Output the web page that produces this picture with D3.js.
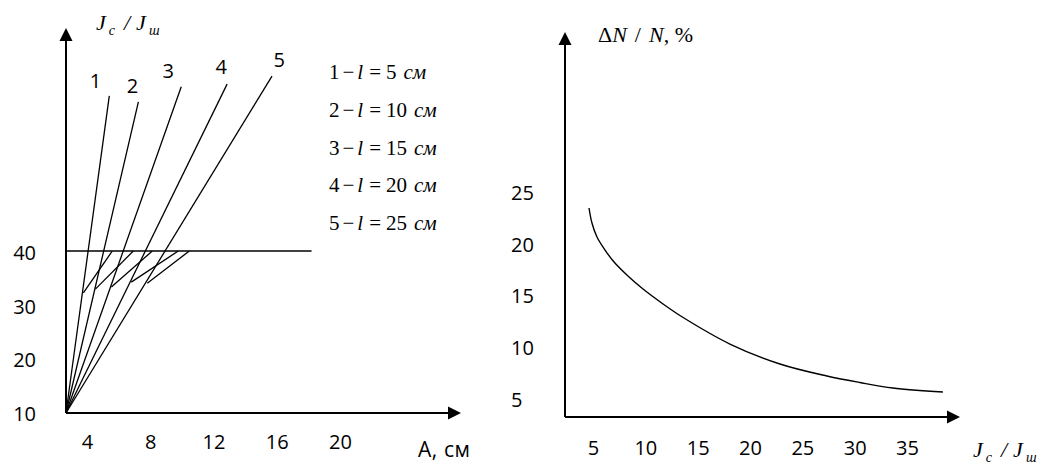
<!DOCTYPE html>
<html>
<head>
<meta charset="utf-8">
<script src="https://cdn.jsdelivr.net/npm/d3@7"></script>
<style>
  body { margin: 0; background: #fff; }
  svg { display: block; }
</style>
</head>
<body>
<div id="chart"></div>
<script>
// left panel: J_c/J_ш against A for several l
const lengthTicks = [4, 8, 12, 16, 20]
const ratioTicks = [10, 20, 30, 40]
const rayNames = ['1', '2', '3', '4', '5']
const rayTops = [[5.41, 68.9], [7.25, 67.8], [9.96, 70.6], [12.86, 71.1], [15.7, 72.6]]
const rayNameAt = [[4.53, 71.7], [6.87, 70.7], [9.14, 73.5], [12.49, 74.3], [16.15, 75.6]]
const limitRatio = 40
const limitEndA = 18.2
const kinkStarts = [[3.77, 32.2], [4.53, 32.9], [5.54, 33.3], [6.8, 34.2], [7.81, 34.0]]
const kinkEndsA = [5.6, 6.93, 8.13, 9.77, 10.47]
const lengthsCm = [5, 10, 15, 20, 25]

// right panel: ΔN/N against J_c/J_ш
const ratioValues = [4.62, 4.9, 5.38, 6.15, 7.01, 8.34, 9.78, 11.69, 13.69, 18.08, 22.86, 27.35, 30.5, 33.65, 38.43]
const errorValues = [23.55, 22.1, 20.75, 19.49, 18.33, 16.98, 15.72, 14.28, 12.92, 10.41, 8.48, 7.32, 6.69, 6.16, 5.77]
const ratioAxisTicks = [5, 10, 15, 20, 25, 30, 35]
const errorTicks = [5, 10, 15, 20, 25]

const width = 1049
const height = 464
const sans = '"Open Sans", sans-serif'
const serif = '"Liberation Serif", "Times New Roman", serif'

const svg = d3.select('#chart')
  .append('svg')
  .attr('width', width)
  .attr('height', height)
  .attr('viewBox', `0 0 ${width} ${height}`)

function arrowUp(g, x, y) {
  g.append('path')
    .attr('d', `M${x},${y} L${x - 6.5},${y + 13} L${x + 6.5},${y + 13} Z`)
    .attr('fill', '#000')
}

function arrowRight(g, x, y) {
  g.append('path')
    .attr('d', `M${x},${y} L${x - 13},${y - 6.5} L${x - 13},${y + 6.5} Z`)
    .attr('fill', '#000')
}

function styleTicks(g, size) {
  g.select('.domain').remove()
  g.selectAll('.tick line').remove()
  g.attr('font-family', sans).attr('font-size', size)
  g.selectAll('text').attr('fill', '#000')
}

// J_c / J_ш title, used twice
function ratioTitle(g, x, y) {
  const t = g.append('text')
    .attr('x', x)
    .attr('y', y)
    .attr('font-family', serif)
    .attr('font-size', 22)
    .attr('font-style', 'italic')
  t.append('tspan').text('J')
  t.append('tspan').attr('font-size', 14).attr('dy', 5).attr('dx', 3).text('c')
  t.append('tspan').attr('dy', -5).attr('dx', 9).text('/')
  t.append('tspan').attr('dx', 6).text('J')
  t.append('tspan').attr('font-size', 14).attr('dy', 5).attr('dx', 3).text('ш')
}

// ---------- left panel ----------
{
  const ox = 66, oy = 413
  const x = d3.scaleLinear().domain([4, 20]).range([87, 340])
  const y = d3.scaleLinear().domain([10, 40]).range([412, 251])
  const g = svg.append('g')
  const origin = [x.invert(ox), y.invert(oy)]

  g.append('line')
    .attr('x1', ox).attr('y1', oy).attr('x2', ox).attr('y2', 36)
    .attr('stroke', '#000').attr('stroke-width', 2)
  arrowUp(g, ox, 28)
  g.append('line')
    .attr('x1', ox).attr('y1', oy).attr('x2', 452).attr('y2', oy)
    .attr('stroke', '#000').attr('stroke-width', 2)
  arrowRight(g, 461, oy)

  g.append('line')
    .attr('x1', x(origin[0])).attr('y1', y(limitRatio))
    .attr('x2', x(limitEndA)).attr('y2', y(limitRatio))
    .attr('stroke', '#000').attr('stroke-width', 1.4)

  g.selectAll('.ray')
    .data(rayTops)
    .join('line')
    .attr('class', 'ray')
    .attr('x1', x(origin[0])).attr('y1', y(origin[1]))
    .attr('x2', d => x(d[0])).attr('y2', d => y(d[1]))
    .attr('stroke', '#000').attr('stroke-width', 1.3)

  g.selectAll('.kink')
    .data(kinkStarts)
    .join('line')
    .attr('class', 'kink')
    .attr('x1', d => x(d[0])).attr('y1', d => y(d[1]))
    .attr('x2', (d, i) => x(kinkEndsA[i])).attr('y2', y(limitRatio))
    .attr('stroke', '#000').attr('stroke-width', 1.3)

  g.selectAll('.ray-name')
    .data(rayNames)
    .join('text')
    .attr('class', 'ray-name')
    .attr('x', (d, i) => x(rayNameAt[i][0]))
    .attr('y', (d, i) => y(rayNameAt[i][1]))
    .attr('dy', '0.35em')
    .attr('text-anchor', 'middle')
    .attr('font-family', sans)
    .attr('font-size', 20)
    .text(d => d)

  g.append('g')
    .attr('transform', 'translate(0,449)')
    .call(d3.axisBottom(x).tickValues(lengthTicks).tickSize(0).tickPadding(0))
    .call(a => styleTicks(a, 20))
    .selectAll('text').attr('dy', 0)

  g.append('g')
    .attr('transform', 'translate(36,2)')
    .call(d3.axisLeft(y).tickValues(ratioTicks).tickSize(0).tickPadding(0))
    .call(a => styleTicks(a, 20))

  g.append('text')
    .attr('x', 418).attr('y', 457)
    .attr('font-family', sans).attr('font-size', 21)
    .attr('textLength', 52)
    .text('А, см')

  ratioTitle(g, 96, 30)

  // legend
  const legend = g.selectAll('.legend')
    .data(lengthsCm)
    .join('text')
    .attr('class', 'legend')
    .attr('x', 329)
    .attr('y', (d, i) => 79 + i * 37.8)
    .attr('font-family', serif)
    .attr('font-size', 21)
  legend.append('tspan').text((d, i) => rayNames[i])
  legend.append('tspan').attr('dx', 3).text('−')
  legend.append('tspan').attr('dx', 3).attr('font-style', 'italic').text('l')
  legend.append('tspan').attr('dx', 6).text('=')
  legend.append('tspan').attr('dx', 5).text(d => d)
  legend.append('tspan').attr('dx', 7).attr('font-style', 'italic').text('см')
}

// ---------- right panel ----------
{
  const ox = 565, oy = 417
  const x = d3.scaleLinear().domain([5, 35]).range([593, 907])
  const y = d3.scaleLinear().domain([5, 25]).range([400, 193])
  const g = svg.append('g')

  g.append('line')
    .attr('x1', ox).attr('y1', oy).attr('x2', ox).attr('y2', 40)
    .attr('stroke', '#000').attr('stroke-width', 2)
  arrowUp(g, ox, 32)
  g.append('line')
    .attr('x1', ox).attr('y1', oy).attr('x2', 950).attr('y2', oy)
    .attr('stroke', '#000').attr('stroke-width', 2)
  arrowRight(g, 960, oy)

  const line = d3.line()
    .x((d, i) => x(ratioValues[i]))
    .y(d => y(d))
    .curve(d3.curveCatmullRom)

  g.append('path')
    .datum(errorValues)
    .attr('d', line)
    .attr('fill', 'none')
    .attr('stroke', '#000')
    .attr('stroke-width', 1.4)

  g.append('g')
    .attr('transform', 'translate(0,455)')
    .call(d3.axisBottom(x).tickValues(ratioAxisTicks).tickSize(0).tickPadding(0))
    .call(a => styleTicks(a, 20))
    .selectAll('text').attr('dy', 0)

  g.append('g')
    .attr('transform', 'translate(511,0)')
    .call(d3.axisRight(y).tickValues(errorTicks).tickSize(0).tickPadding(0))
    .call(a => styleTicks(a, 20))

  const t = g.append('text')
    .attr('x', 598).attr('y', 42)
    .attr('font-family', serif)
    .attr('font-size', 22)
  t.append('tspan').text('Δ')
  t.append('tspan').attr('font-style', 'italic').text('N')
  t.append('tspan').attr('dx', 8).text('/')
  t.append('tspan').attr('dx', 8).attr('font-style', 'italic').text('N')
  t.append('tspan').text(', %')

  ratioTitle(g, 973, 457)
}
</script>
</body>
</html>
